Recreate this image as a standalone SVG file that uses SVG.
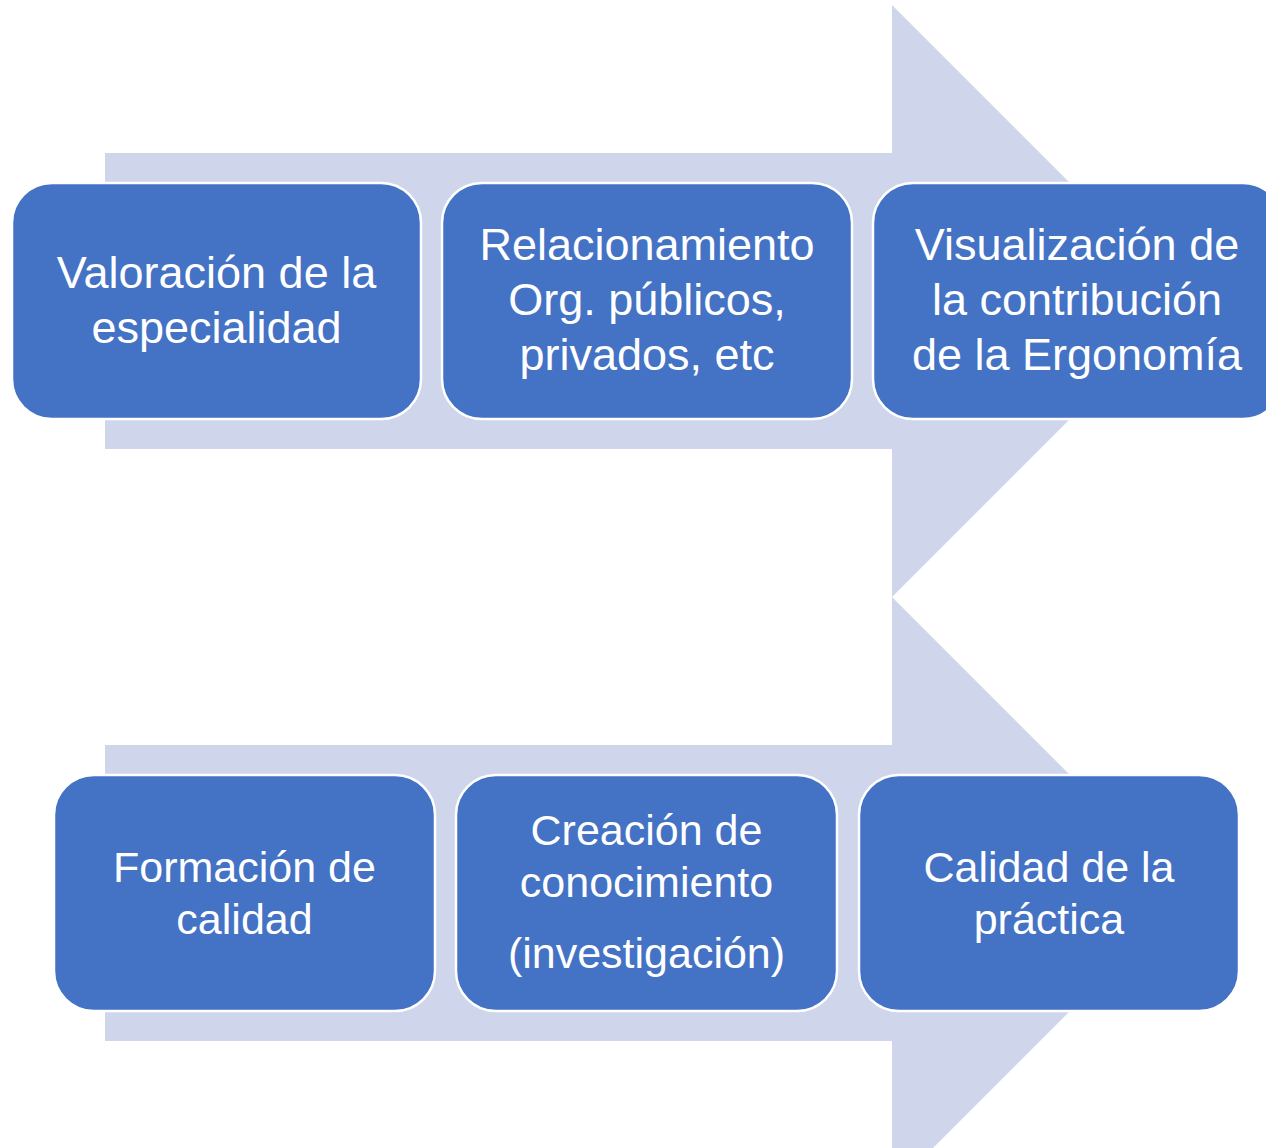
<svg xmlns="http://www.w3.org/2000/svg" width="1266" height="1148" viewBox="0 0 1266 1148">
<style>
.arrow{fill:#CFD5EA;stroke:none}
.box{fill:#4472C4;stroke:#FFFFFF;stroke-width:2.5}
.t{font-family:"Liberation Sans",Arial,sans-serif;fill:#FFFFFF;text-anchor:middle}
.top{font-size:45px}
.bot{font-size:43px}
</style>
<rect width="1266" height="1148" fill="#FFFFFF"/>
<g id="connectors">
<polygon class="arrow" points="105,153 892,153 892,5 1188,301 892,597 892,449 105,449"/>
<polygon class="arrow" points="105,745 892,745 892,597 1188,893 892,1189 892,1041 105,1041"/>
</g>
<g id="node1">
<rect class="box" x="12" y="183" width="409" height="236" rx="40"/>
<text class="t top" x="216.5" y="288">Valoración de la</text>
<text class="t top" x="216.5" y="343">especialidad</text>
</g>
<g id="node2">
<rect class="box" x="442" y="183" width="410" height="236" rx="40"/>
<text class="t top" x="647" y="260">Relacionamiento</text>
<text class="t top" x="647" y="315">Org. públicos,</text>
<text class="t top" x="647" y="370">privados, etc</text>
</g>
<g id="node3">
<rect class="box" x="873" y="183" width="410" height="236" rx="40"/>
<text class="t top" x="1077" y="260">Visualización de</text>
<text class="t top" x="1077" y="315">la contribución</text>
<text class="t top" x="1077" y="370">de la Ergonomía</text>
</g>
<g id="node4">
<rect class="box" x="54" y="775" width="381" height="236" rx="40"/>
<text class="t bot" x="244.5" y="882">Formación de</text>
<text class="t bot" x="244.5" y="934">calidad</text>
</g>
<g id="node5">
<rect class="box" x="456" y="775" width="381" height="236" rx="40"/>
<text class="t bot" x="646.5" y="845">Creación de</text>
<text class="t bot" x="646.5" y="897">conocimiento</text>
<text class="t bot" x="646.5" y="968">(investigación)</text>
</g>
<g id="node6">
<rect class="box" x="859" y="775" width="380" height="236" rx="40"/>
<text class="t bot" x="1049" y="882">Calidad de la</text>
<text class="t bot" x="1049" y="934">práctica</text>
</g>
</svg>
